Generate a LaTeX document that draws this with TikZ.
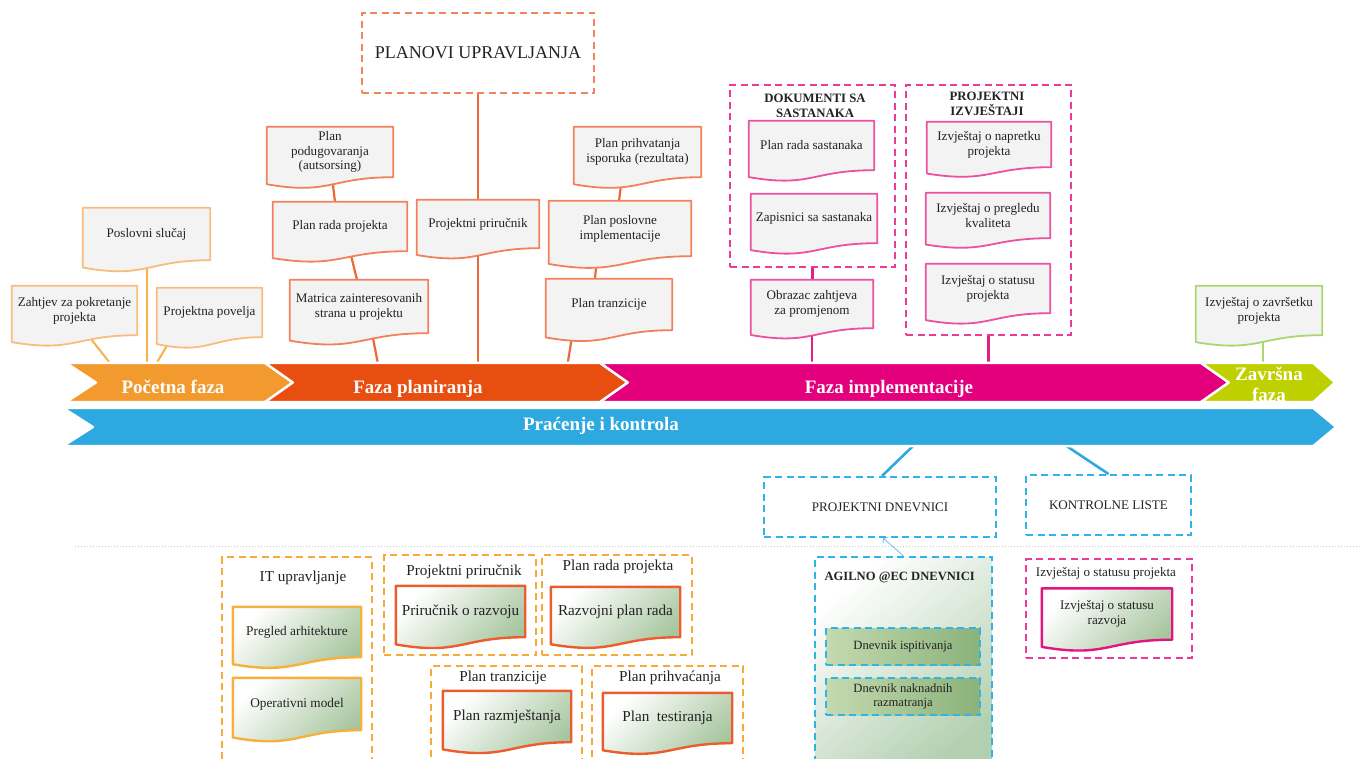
\documentclass[tikz,border=0pt]{standalone}
\usepackage{fontspec}
\setmainfont{Liberation Serif}
\usetikzlibrary{calc,arrows.meta}
\pgfdeclarelayer{wires}
\pgfdeclarelayer{shapes}
\pgfsetlayers{wires,shapes,main}

% phase colours
\definecolor{cInit}{RGB}{243,154,46}
\definecolor{cPlan}{RGB}{232,78,16}
\definecolor{cImpl}{RGB}{228,0,125}
\definecolor{cEnd}{RGB}{190,208,0}
\definecolor{cMon}{RGB}{46,169,224}
% outlines and connectors
\definecolor{eInit}{RGB}{249,188,125}
\definecolor{wInit}{RGB}{247,178,70}
\definecolor{ePlan}{RGB}{243,128,92}
\definecolor{wPlan}{RGB}{238,104,55}
\definecolor{gPlan}{RGB}{244,132,92}
\definecolor{eImpl}{RGB}{236,80,160}
\definecolor{wImpl}{RGB}{226,30,138}
\definecolor{gImpl}{RGB}{234,60,150}
\definecolor{eEnd}{RGB}{172,214,112}
\definecolor{gMon}{RGB}{48,180,232}
\definecolor{faintMon}{RGB}{130,200,235}
\definecolor{gOra}{RGB}{247,170,55}
\definecolor{eOra}{RGB}{246,176,60}
\definecolor{eRed}{RGB}{237,92,45}
\definecolor{eMag}{RGB}{228,20,130}
% fills and text
\definecolor{docgray}{RGB}{243,243,243}
\definecolor{docgreen}{RGB}{166,197,158}
\definecolor{agGreen}{RGB}{178,207,176}
\definecolor{lgL}{RGB}{196,218,176}
\definecolor{lgD}{RGB}{138,178,122}
\definecolor{ink}{RGB}{35,35,35}
\definecolor{sepgray}{RGB}{200,200,200}

% document symbol under a named node: flat top, wavy bottom
\newcommand\docshape[2]{%
  \begin{pgfonlayer}{shapes}
    \path[#1] (#2.north west) -- (#2.north east) -- (#2.south east)
      .. controls (#2.south) and ($(#2.south)!-0.36!(#2.north)$) ..
      ($(#2.south west)!-0.14!(#2.north west)$) -- cycle;
  \end{pgfonlayer}}

% chevron band under a named node: #3 notch depth, #4 tip depth
\newcommand\chevron[4]{%
  \begin{pgfonlayer}{shapes}
    \path[fill=#2, draw=white, line width=2.5pt, line join=round]
      (#1.north west) -- (#1.north east) -- ($(#1.east)+(#4,0)$) -- (#1.south east)
      -- (#1.south west) -- ($(#1.west)+(#3,0)$) -- cycle;
  \end{pgfonlayer}}

\begin{document}
\begin{tikzpicture}[x=1pt, y=-1pt,
  txt/.style={font=\fontsize{13.1}{14.8}\selectfont, text=ink, align=center},
  boldtxt/.style={font=\fontsize{12.8}{15}\selectfont\bfseries, text=ink, align=center},
  big/.style={font=\fontsize{15.2}{17}\selectfont, text=ink, align=center},
  mid/.style={font=\fontsize{13.3}{15}\selectfont, text=ink, align=center},
  docbox/.style={txt, rectangle, inner sep=1pt},
  graydoc/.style={fill=docgray, draw=#1, line width=1.8pt, line join=round},
  greendoc/.style={draw=#1, line width=2.4pt, line join=round,
    top color=white, bottom color=docgreen, shading angle=45},
  group/.style={draw=#1, line width=2pt, dash pattern=on 7pt off 4.5pt},
  wire/.style={draw=#1, line width=2pt},
  phase/.style={font=\fontsize{19}{21}\selectfont\bfseries, text=white, align=center, inner sep=0pt},
  band/.style={rectangle, inner sep=0pt, minimum height=39}
]
\useasboundingbox (0,0) rectangle (1361,759);
\clip (0,0) rectangle (1361,759);

% ---------- phase bands ----------
\node[band, minimum width=199] (pocetna) at (165.5,382.5) {};
\node[band, minimum width=335] (planiranja) at (432.5,382.5) {};
\node[band, minimum width=601] (implementacija) at (900.5,382.5) {};
\node[band, minimum width=112] (zavrsna) at (1257,382.5) {};
\node[band, minimum width=1250, minimum height=38] (pracenje) at (688,427) {};
\chevron{pocetna}{cInit}{30}{28}
\chevron{planiranja}{cPlan}{28}{28}
\chevron{implementacija}{cImpl}{28}{28}
\chevron{zavrsna}{cEnd}{28}{22}
\chevron{pracenje}{cMon}{30}{23}

\node[phase, anchor=base] (lPocetna) at (173,394) {Početna faza};
\node[phase, anchor=base] (lPlaniranja) at (418,394) {Faza planiranja};
\node[phase, anchor=base] (lImpl) at (889,394) {Faza implementacije};
\node[phase] (lZavrsna) at (1269,384.5) {Završna\\faza};
\node[phase, anchor=base] (lPracenje) at (601,431) {Praćenje i kontrola};

% ---------- initiation documents ----------
\node[docbox, minimum width=127, minimum height=52] (pslucaj) at (146.5,234) {Poslovni slučaj};
\node[docbox, minimum width=125, minimum height=49] (zahtjev) at (74.5,310.5) {Zahtjev za pokretanje\\projekta};
\node[docbox, minimum width=105, minimum height=49] (povelja) at (209.5,312.5) {Projektna povelja};

% ---------- planning documents ----------
\node[group=gPlan, minimum width=232, minimum height=80,
      font=\fontsize{18}{20}\selectfont, text=ink] (planovi) at (478,53) {PLANOVI UPRAVLJANJA};
\node[docbox, minimum width=126, minimum height=50] (podug) at (330,152) {Plan\\podugovaranja\\(autsorsing)};
\node[docbox, minimum width=134, minimum height=49] (radaproj) at (340,226.5) {Plan rada projekta};
\node[docbox, minimum width=138, minimum height=53] (matrica) at (359,306.5) {Matrica zainteresovanih\\strana u projektu};
\node[docbox, minimum width=122, minimum height=48] (prirucnik) at (478,224) {Projektni priručnik};
\node[docbox, minimum width=127, minimum height=50] (prihvat) at (637.5,152) {Plan prihvatanja\\isporuka (rezultata)};
\node[docbox, minimum width=142, minimum height=55] (poslovne) at (620,228.5) {Plan poslovne\\implementacije};
\node[docbox, minimum width=126, minimum height=51] (tranz) at (609,304.5) {Plan tranzicije};

% ---------- implementation documents ----------
\node[group=gImpl, minimum width=165, minimum height=182] (dokbox) at (812.5,176) {};
\node[boldtxt] (tDok) at (815,106) {DOKUMENTI SA\\SASTANAKA};
\node[docbox, minimum width=125, minimum height=49] (planrs) at (811.5,145.5) {Plan rada sastanaka};
\node[docbox, minimum width=126, minimum height=49] (zapis) at (814,218.5) {Zapisnici sa sastanaka};
\node[docbox, minimum width=122, minimum height=48] (obrazac) at (812,304) {Obrazac zahtjeva\\za promjenom};

\node[group=gImpl, minimum width=165, minimum height=250] (izvbox) at (988.5,210) {};
\node[boldtxt] (tIzv) at (987,104) {PROJEKTNI\\IZVJEŠTAJI};
\node[docbox, minimum width=124, minimum height=45] (napretku) at (989,144.5) {Izvještaj o napretku\\projekta};
\node[docbox, minimum width=124, minimum height=45] (pregledu) at (988,215.5) {Izvještaj o pregledu\\kvaliteta};
\node[docbox, minimum width=124, minimum height=49] (statusu) at (988,288.5) {Izvještaj o statusu\\projekta};

% ---------- closing document ----------
\node[docbox, minimum width=126, minimum height=49] (zavrsetku) at (1259,310.5) {Izvještaj o završetku\\projekta};

% ---------- monitoring and control ----------
\node[group=gMon, txt, minimum width=232, minimum height=60] (dnevnici) at (880,507) {PROJEKTNI DNEVNICI};
\node[group=gMon, txt, minimum width=165, minimum height=60] (kontrolne) at (1108.5,505) {KONTROLNE LISTE};

\coordinate (sepL) at (75,546);
\coordinate (sepR) at (1361,546);
\draw[sepgray, line width=1pt, dotted] (sepL) -- (sepR);

\node[group=gMon, minimum width=177, minimum height=218,
      top color=white, bottom color=agGreen, shading angle=40] (agilno) at (903.5,666) {};
\node[boldtxt, font=\fontsize{12.6}{14}\selectfont\bfseries, anchor=west] (tAgilno) at (821,577) {AGILNO @EC DNEVNICI};
\node[group=gMon, txt, font=\fontsize{12.6}{14.5}\selectfont, minimum width=154, minimum height=37,
      left color=lgL, right color=lgD] (dispit) at (903,646.5) {Dnevnik ispitivanja};
\node[group=gMon, txt, font=\fontsize{12.6}{14.5}\selectfont, minimum width=154, minimum height=37,
      left color=lgL, right color=lgD] (dnakn) at (903,696.5) {Dnevnik naknadnih\\razmatranja};

\node[group=gImpl, minimum width=166, minimum height=99] (statusbox) at (1109,608.5) {};
\node[txt] (tStatus) at (1106,573) {Izvještaj o statusu projekta};
\node[docbox, minimum width=130, minimum height=51] (statusraz) at (1107,614) {Izvještaj o statusu\\razvoja};

% ---------- IT and delivery plans ----------
\node[group=gOra, minimum width=150, minimum height=218] (itbox) at (297,666) {};
\node[big] (tIt) at (303,578) {IT upravljanje};
\node[docbox, mid, minimum width=128, minimum height=50] (pregarh) at (297,632) {Pregled arhitekture};
\node[docbox, mid, minimum width=128, minimum height=52] (opmodel) at (297,704) {Operativni model};

\node[group=gOra, minimum width=152, minimum height=100] (ppbox) at (460,605) {};
\node[big] (tPp) at (464,572) {Projektni priručnik};
\node[docbox, big, minimum width=129, minimum height=51] (przvoju) at (460.5,611.5) {Priručnik o razvoju};

\node[group=gOra, minimum width=150, minimum height=100] (prpbox) at (617,605) {};
\node[big] (tPrp) at (618,567) {Plan rada projekta};
\node[docbox, big, minimum width=129, minimum height=50] (razvplan) at (615.5,612) {Razvojni plan rada};

\node[group=gOra, minimum width=151, minimum height=109] (ptbox) at (506.5,720.5) {};
\node[big] (tPt) at (503,678) {Plan tranzicije};
\node[docbox, big, minimum width=128, minimum height=51] (razmj) at (507,716.5) {Plan razmještanja};

\node[group=gOra, minimum width=151, minimum height=109] (phbox) at (667.5,720.5) {};
\node[big] (tPh) at (670,678) {Plan prihvaćanja};
\node[docbox, big, minimum width=129, minimum height=50] (testir) at (667.5,718) {Plan\ \ testiranja};

% ---------- document outlines ----------
\foreach \nm in {pslucaj,zahtjev,povelja} {\docshape{graydoc=eInit}{\nm}}
\foreach \nm in {podug,radaproj,matrica,prirucnik,prihvat,poslovne,tranz} {\docshape{graydoc=ePlan}{\nm}}
\foreach \nm in {planrs,zapis,obrazac,napretku,pregledu,statusu} {\docshape{graydoc=eImpl}{\nm}}
\docshape{graydoc=eEnd}{zavrsetku}
\docshape{greendoc=eMag}{statusraz}
\foreach \nm in {pregarh,opmodel} {\docshape{greendoc=eOra}{\nm}}
\foreach \nm in {przvoju,razvplan,razmj,testir} {\docshape{greendoc=eRed}{\nm}}

% ---------- connectors ----------
\begin{pgfonlayer}{wires}
  \draw[wire=wInit] (pslucaj.south) -- (pslucaj.south |- pocetna.north);
  \draw[wire=wInit] ([xshift=13.5pt]zahtjev.south) -- ([xshift=44pt]pocetna.north west);
  \draw[wire=wInit] ([xshift=-37.5pt]povelja.south) -- ([xshift=91pt]pocetna.north west);

  \draw[wire=wPlan, line width=2.2pt] (planovi.south) -- (planovi.south |- planiranja.north);
  \draw[wire=wPlan, line width=2.2pt] ([xshift=2pt]podug.south) -- ([xshift=-5pt]radaproj.north);
  \draw[wire=wPlan, line width=2.2pt] ([xshift=10pt]radaproj.south) -- ([xshift=-2pt]matrica.north);
  \draw[wire=wPlan, line width=2.2pt] ([xshift=13pt]matrica.south) -- ([xshift=113pt]planiranja.north west);
  \draw[wire=wPlan, line width=2.2pt] ([xshift=-15.5pt]prihvat.south) -- ([xshift=-1pt]poslovne.north);
  \draw[wire=wPlan, line width=2.2pt] ([xshift=-23pt]poslovne.south) -- ([xshift=-14pt]tranz.north);
  \draw[wire=wPlan, line width=2.2pt] ([xshift=-36pt]tranz.south) -- ([xshift=303pt]planiranja.north west);

  \draw[wire=wImpl, line width=2.6pt] (dokbox.south) -- (dokbox.south |- obrazac.north);
  \draw[wire=wImpl, line width=2.6pt] (obrazac.south) -- (obrazac.south |- implementacija.north);
  \draw[wire=wImpl, line width=2.6pt] (izvbox.south) -- (izvbox.south |- implementacija.north);

  \draw[wire=eEnd, line width=1.6pt] ([xshift=4pt]zavrsetku.south) -- ([xshift=4pt]zavrsetku.south |- zavrsna.north);

  \draw[wire=cMon, line width=2.6pt] ([xshift=850pt]pracenje.south west) -- ([xshift=2pt]dnevnici.north);
  \draw[wire=cMon, line width=2.6pt] ([xshift=1004pt]pracenje.south west) -- (kontrolne.north);
  \draw[draw=faintMon, line width=1pt, -{Straight Barb[length=3pt,width=8pt]}]
    (agilno.north) -- ([xshift=3pt]dnevnici.south);
\end{pgfonlayer}
\end{tikzpicture}
\end{document}
